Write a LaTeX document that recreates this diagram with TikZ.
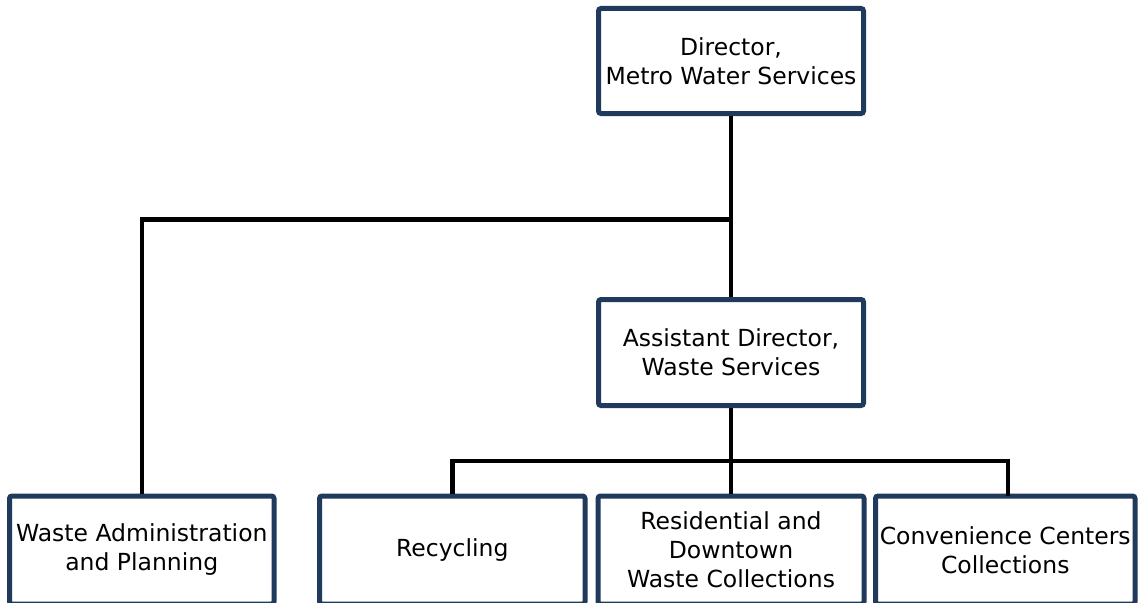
\documentclass[tikz,border=0pt]{standalone}
\usepackage{fontspec}
\setmainfont{DejaVu Sans}
\definecolor{boxnavy}{HTML}{1F3A5A}
\tikzset{
  orgbox/.style={draw=boxnavy, line width=5pt, rounded corners=2.5pt, fill=white,
    align=center, inner sep=0pt, font=\fontsize{23.5}{29}\selectfont},
  link/.style={draw=black, line width=4.5pt, line join=miter}
}
\begin{document}
\begin{tikzpicture}[x=1pt,y=-1pt]
\useasboundingbox (0,0) rectangle (1139,602);
\node[orgbox, minimum width=265pt, minimum height=105pt] (dir) at (731,61) {Director,\\Metro Water Services};
\node[orgbox, minimum width=265pt, minimum height=106pt] (asst) at (731,352.5) {Assistant Director,\\Waste Services};
\node[orgbox, minimum width=264.5pt, minimum height=108pt] (waste) at (141.75,550) {Waste Administration\\and Planning};
\node[orgbox, minimum width=265.5pt, minimum height=108pt] (rec) at (452.25,550) {Recycling};
\node[orgbox, minimum width=266pt, minimum height=108pt] (res) at (731,550) {Residential and\\Downtown\\Waste Collections};
\node[orgbox, minimum width=259.5pt, minimum height=108pt] (conv) at (1005.25,550) {Convenience Centers\\Collections};
\coordinate (j1) at (731,219.5);
\coordinate (j2) at (731,461);
\coordinate (cv) at (1008,496);
\draw[link] (dir.south) -- (asst.north);
\draw[link] (j1) -| (waste.north);
\draw[link] (asst.south) -- (j2);
\draw[link] (rec.north) |- (j2) -| (cv);
\draw[link] (j2) -- (res.north);
\end{tikzpicture}
\end{document}
